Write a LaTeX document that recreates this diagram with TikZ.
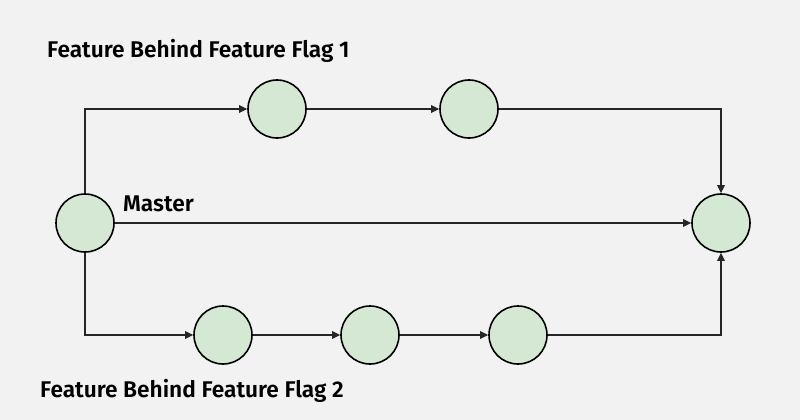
\documentclass[tikz,border=0pt]{standalone}
\usepackage{fontspec}
\setmainfont{Fira Sans}[BoldFont={Fira Sans SemiBold}]
\usetikzlibrary{arrows.meta}

\definecolor{bgcol}{HTML}{F2F2F2}
\definecolor{commitfill}{HTML}{D5E8D4}

\tikzset{
   commit/.style={circle, draw=black, line width=1.6pt, fill=commitfill, minimum size=58pt, inner sep=0pt},
   flow/.style={line width=1.3pt, draw=black!85, -{Triangle[length=8pt,width=7.5pt]}},
   lbl/.style={font=\bfseries\fontsize{22.7}{26}\selectfont, anchor=base west, inner sep=0pt}
}

\begin{document}
\begin{tikzpicture}[x=1pt,y=-1pt]
   \fill [bgcol] (0,0) rectangle (800,420);
   \useasboundingbox (0,0) rectangle (800,420);

   \node [commit] (master) at (85,223) {};
   \node [commit] (top1) at (277,109) {};
   \node [commit] (top2) at (469,109) {};
   \node [commit] (merge) at (721,223) {};
   \node [commit] (bot1) at (223,335) {};
   \node [commit] (bot2) at (370,335) {};
   \node [commit] (bot3) at (518,335) {};

   \node [lbl] (flag1) at (47,57) {Feature Behind Feature Flag 1};
   \node [lbl] (mastertxt) at (123,211) {Master};
   \node [lbl] (flag2) at (40,397) {Feature Behind Feature Flag 2};

   \draw [flow] (master.north) |- (top1);
   \draw [flow] (top1) -- (top2);
   \draw [flow] (top2) -| (merge);
   \draw [flow] (master) -- (merge);
   \draw [flow] (master.south) |- (bot1);
   \draw [flow] (bot1) -- (bot2);
   \draw [flow] (bot2) -- (bot3);
   \draw [flow] (bot3) -| (merge);

\end{tikzpicture}
\end{document}
